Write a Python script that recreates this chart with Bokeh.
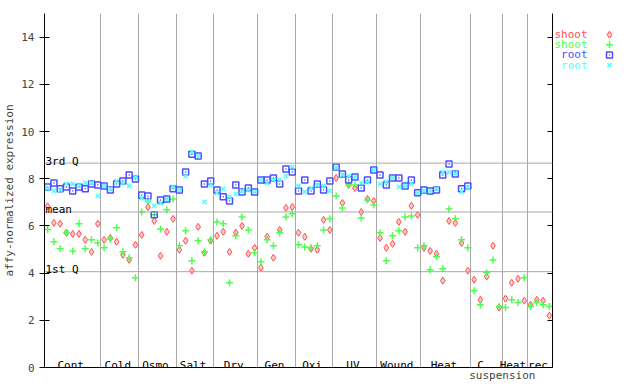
from bokeh.plotting import figure
from bokeh.layouts import row
from bokeh.models import Range1d, LinearAxis, FixedTicker, Span, Label
from bokeh.core.properties import value
from bokeh.embed import file_html
from bokeh.resources import INLINE

# ---------------- data ----------------
group_names = ["Cont", "Cold", "Osmo", "Salt", "Dry", "Gen", "Oxi", "UV", "Wound", "Heat", "C", "Heat", "rec"]
group_sizes = [9, 6, 6, 6, 7, 6, 6, 7, 7, 8, 5, 4, 4]
below_axis_ticks = [72.5]
below_axis_labels = ["suspension"]

shoot_red = [6.83, 6.13, 6.09, 5.71, 5.66, 5.66, 5.41, 4.90, 6.09, 5.41, 5.49, 5.33, 4.78, 4.56, 5.20, 5.62, 6.80, 6.21, 4.73, 5.75, 6.30,
             4.99, 5.37, 4.10, 5.96, 4.86, 5.37, 5.58, 5.75, 4.90, 5.71, 6.00, 4.82, 5.07, 4.23, 5.54, 4.65, 5.83, 6.76, 6.80, 5.71, 5.54,
             5.03, 4.99, 6.26, 5.83, 8.03, 6.97, 7.73, 7.60, 6.59, 7.14, 7.06, 5.49, 5.07, 5.24, 6.17, 5.75, 6.85, 6.47, 5.07, 4.94,
             4.82, 3.68, 6.21, 6.13, 5.28, 4.10, 3.72, 2.87, 3.85, 5.16, 2.54, 2.92, 3.59, 3.76, 2.83, 2.66, 2.87, 2.83, 2.20]
shoot_green = [5.85, 5.33, 5.03, 5.71, 4.94, 6.09, 5.03, 5.41, 5.28, 5.07, 5.45, 5.92, 4.90, 4.65, 3.80, 6.59, 7.06, 6.47, 5.87, 6.68, 7.14,
               5.16, 5.79, 4.52, 5.37, 4.90, 5.41, 6.17, 6.09, 3.59, 5.58, 6.38, 5.83, 4.86, 4.48, 5.41, 5.16, 5.71, 6.38, 6.51, 5.20, 5.11,
               5.07, 5.16, 5.83, 6.30, 7.27, 6.76, 7.73, 7.73, 6.34, 7.10, 6.89, 5.71, 4.52, 5.58, 5.79, 6.38, 6.42, 5.07, 5.16, 4.14,
               4.69, 4.18, 6.72, 6.30, 5.41, 5.07, 3.25, 2.66, 4.02, 4.56, 2.58, 2.54, 2.87, 2.75, 3.80, 2.58, 2.75, 2.66, 2.58]
root_blue = [7.65, 7.82, 7.57, 7.65, 7.48, 7.65, 7.57, 7.78, 7.73, 7.69, 7.52, 7.78, 7.90, 8.16, 7.99, 7.31, 7.27, 6.47, 7.10, 7.14, 7.57,
             7.52, 8.28, 9.04, 8.96, 7.78, 7.90, 7.52, 7.23, 7.06, 7.73, 7.44, 7.61, 7.44, 7.95, 7.95, 8.03, 7.78, 8.41, 8.28, 7.48, 7.95,
             7.48, 7.78, 7.52, 7.90, 8.50, 8.20, 7.95, 8.07, 7.61, 7.95, 8.37, 8.16, 7.73, 8.03, 8.03, 7.69, 7.95, 7.40, 7.52, 7.48,
             7.52, 8.16, 8.62, 8.20, 7.57, 7.69]
root_cyan = [7.59, 7.48, 7.52, 7.78, 7.78, 7.73, 7.82, 7.82, 7.27, 7.69, 7.57, 7.90, 7.82, 7.69, 8.07, 7.18, 7.06, 6.85, 6.97, 7.14, 7.65,
             7.52, 8.11, 9.13, 8.96, 7.02, 7.73, 7.40, 7.57, 7.23, 7.35, 7.48, 7.52, 7.44, 7.95, 7.82, 7.95, 7.95, 8.11, 8.50, 7.69, 7.44,
             7.61, 7.73, 7.69, 7.48, 8.46, 8.16, 8.11, 8.07, 7.82, 7.86, 8.37, 7.78, 7.86, 8.03, 7.65, 7.69, 7.78, 7.40, 7.48, 7.48,
             7.57, 8.28, 8.28, 8.24, 7.44, 7.61]

quartile_names = ["3rd Q", "mean", "1st Q"]
quartile_values = [8.66, 6.59, 4.06]
y_ticks = [0, 2, 4, 6, 8, 10, 12, 14]
legend_names = ["shoot", "shoot", "root", "root"]
legend_markers = ["diamond", "cross", "square_dot", "x"]

# ---------------- styling ----------------
FONT = "DejaVu Sans Mono"
FS = "11px"
RED, GREEN, BLUE, CYAN = "#ff4d4d", "#4dff4d", "#4d4dff", "#4dffff"
COLORS = [RED, GREEN, BLUE, CYAN]
GRID = "#a8a8a8"
STYLE = {
    "diamond": dict(size=7, fill_alpha=0.3, line_width=1),
    "cross": dict(size=7, line_width=1.5),
    "square_dot": dict(size=6, fill_color=None, line_width=1.5),
    "x": dict(size=6, line_width=1.5),
}

n = len(shoot_red)
xs = list(range(n))
xr = list(range(len(root_blue)))

p = figure(width=553, height=384, x_range=Range1d(-0.5, n - 0.5), y_range=Range1d(0, 15),
           output_backend="svg", toolbar_location=None,
           min_border_left=44, min_border_right=1, min_border_top=13, min_border_bottom=15)
p.outline_line_color = None
p.background_fill_color = "white"

# bottom axis: only the line plus the second line of the "C suspension" label
p.xaxis.ticker = FixedTicker(ticks=below_axis_ticks)
p.xaxis.major_label_overrides = {t: s for t, s in zip(below_axis_ticks, below_axis_labels)}
p.xaxis.major_label_text_font = FONT
p.xaxis.major_label_text_font_size = FS
p.xaxis.major_label_standoff = 1
p.xaxis.major_tick_line_color = None
p.xaxis.major_tick_in = 0
p.xaxis.major_tick_out = 0
p.xaxis.minor_tick_line_color = None
p.xaxis.axis_line_color = "black"

p.yaxis.ticker = FixedTicker(ticks=y_ticks)
p.yaxis.major_tick_in = 5
p.yaxis.major_tick_out = 5
p.yaxis.minor_tick_line_color = None
p.yaxis.major_label_text_font = FONT
p.yaxis.major_label_text_font_size = FS
p.yaxis.major_label_standoff = 5
p.yaxis.axis_label = "affy-normalized expression"
p.yaxis.axis_label_text_font = FONT
p.yaxis.axis_label_text_font_size = FS
p.yaxis.axis_label_text_font_style = "normal"
p.yaxis.axis_label_standoff = 2

ra = LinearAxis(ticker=FixedTicker(ticks=y_ticks), major_tick_in=5, major_tick_out=0,
                minor_tick_line_color=None, major_label_text_color=None,
                major_label_text_font_size="0px", major_label_standoff=0)
p.add_layout(ra, "right")

# group separators
bounds = []
c = 0
for s in group_sizes[:-1]:
    c += s
    bounds.append(c - 0.5)
p.xgrid.ticker = FixedTicker(ticks=bounds)
p.xgrid.grid_line_color = GRID
p.ygrid.grid_line_color = None

# quartile lines
for name, v in zip(quartile_names, quartile_values):
    p.add_layout(Span(location=v, dimension="width", line_color=GRID, line_width=1))
    p.add_layout(Label(x=-0.5, y=v, text=name, x_offset=1, y_offset=2, text_baseline="alphabetic",
                       text_font=FONT, text_font_size=FS, text_color="black"))

# group labels
c = 0
for name, s in zip(group_names, group_sizes):
    center = c + s / 2 - 0.5
    off = -6 if name == "C" else -2
    p.add_layout(Label(x=center, y=0, text=name, x_offset=off, y_offset=2, text_align="center",
                       text_baseline="alphabetic", text_font=FONT, text_font_size=FS, text_color="black"))
    c += s

# points
series = [(xs, shoot_red), (xs, shoot_green), (xr, root_blue), (xr, root_cyan)]
for (xx, yy), m, col in zip(series, legend_markers, COLORS):
    kw = dict(STYLE[m])
    kw.setdefault("fill_color", col)
    p.scatter(xx, yy, marker=m, line_color=col, **kw)

# legend panel: a small figure whose coordinates are page pixels
lf = figure(width=79, height=384, x_range=Range1d(553, 632), y_range=Range1d(384, 0),
            output_backend="svg", toolbar_location=None,
            min_border_left=0, min_border_right=0, min_border_top=0, min_border_bottom=0)
lf.axis.visible = False
lf.grid.visible = False
lf.outline_line_color = None
row_y = [23 + 11 * i for i in range(len(legend_names))]
lf.text(x=[587] * 4, y=row_y, text=legend_names, text_color=COLORS, text_align="right",
        text_baseline="middle", text_font=value(FONT), text_font_size=value(FS))
for yy, m, col in zip(row_y, legend_markers, COLORS):
    kw = dict(STYLE[m])
    kw.setdefault("fill_color", col)
    lf.scatter([609], [yy], marker=m, line_color=col, **kw)

layout = row(p, lf, spacing=0)
open("out.html", "w").write(file_html(layout, INLINE))
